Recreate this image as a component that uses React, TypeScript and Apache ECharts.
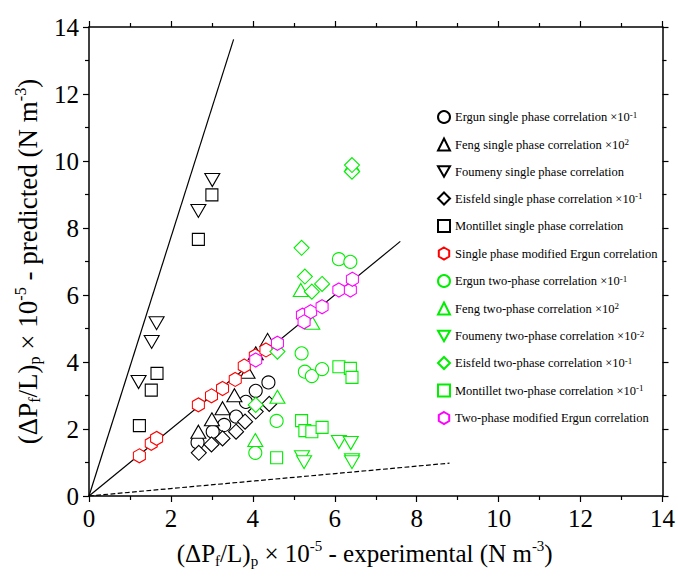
import React, { useEffect, useRef } from "react";
import * as echarts from "echarts";

const FONT = "'Times New Roman', 'Liberation Serif', serif";

const xTicks = { min: 0, max: 14, interval: 2 };
const yTicks = { min: 0, max: 14, interval: 2 };

// single phase (black)
const ergunSingle = [[4.38, 3.39], [4.07, 3.14], [3.83, 2.81], [3.59, 2.37], [3.3, 2.12], [3.02, 1.92], [2.65, 1.6]];
const fengSingle = [[4.36, 4.66], [4.07, 4.26], [3.87, 3.71], [3.55, 3.01], [3.26, 2.62], [3.0, 2.29], [2.67, 1.92]];
const foumenySingle = [[3.01, 9.43], [2.67, 8.51], [1.65, 5.16], [1.53, 4.6], [1.21, 3.4]];
const eisfeldSingle = [[2.68, 1.29], [2.99, 1.54], [3.26, 1.72], [3.59, 1.92], [3.81, 2.22], [4.07, 2.52], [4.4, 2.75]];
const montilletSingle = [[3.0, 8.99], [2.67, 7.66], [1.66, 3.66], [1.52, 3.16], [1.23, 2.1]];
const modErgunSingle = [[1.23, 1.2], [1.52, 1.57], [1.65, 1.72], [2.67, 2.72], [2.99, 2.99], [3.26, 3.21], [3.57, 3.48], [3.79, 3.88], [4.06, 4.18], [4.32, 4.36]];
// two-phase (green / magenta)
const ergunTwo = [[5.19, 4.26], [5.27, 3.71], [5.44, 3.58], [5.69, 3.79], [4.58, 2.24], [4.06, 1.29], [6.1, 7.07], [6.38, 6.99]];
const fengTwo = [[4.6, 2.96], [4.06, 1.67], [5.17, 6.15], [5.45, 5.17], [6.42, 9.88]];
const foumenyTwo = [[6.1, 1.61], [6.39, 1.58], [5.2, 1.16], [5.25, 1.01], [6.42, 1.07], [6.42, 1.01]];
const eisfeldTwo = [[5.19, 7.41], [5.27, 6.55], [5.44, 6.1], [5.69, 6.33], [6.42, 9.68], [6.42, 9.88], [4.07, 2.72], [4.6, 4.31]];
const montilletTwo = [[6.1, 3.86], [6.38, 3.81], [6.42, 3.54], [5.19, 2.25], [5.27, 1.95], [5.44, 1.92], [5.69, 2.05], [4.58, 1.14]];
const modErgunTwo = [[4.07, 4.06], [4.6, 4.56], [5.21, 5.4], [5.41, 5.5], [5.69, 5.65], [6.1, 6.15], [6.38, 6.15], [6.43, 6.47], [5.25, 5.2]];

// reference lines
const parityLine = [[0, 0], [7.6, 7.6]];
const upperLine = [[0, 0], [3.53, 13.63]];
const lowerLine = [[0, 0], [8.8, 0.98]];

const legendNames = [
  "Ergun single phase correlation ×10^-1",
  "Feng single phase correlation ×10^2",
  "Foumeny single phase correlation",
  "Eisfeld single phase correlation ×10^-1",
  "Montillet single phase correlation",
  "Single phase modified Ergun correlation",
  "Ergun two-phase correlation ×10^-1",
  "Feng two-phase correlation ×10^2",
  "Foumeny two-phase correlation ×10^-2",
  "Eisfeld two-phase correlation ×10^-1",
  "Montillet two-phase correlation ×10^-1",
  "Two-phase modified Ergun correlation",
];

const HEX = "path://M0,-1 L0.866,-0.5 L0.866,0.5 L0,1 L-0.866,0.5 L-0.866,-0.5 Z";
const DOWN = "path://M0,0 L2,0 L1,1.73 Z";

export default function App() {
  const ref = useRef<HTMLDivElement>(null);
  useEffect(() => {
    if (!ref.current) return;
    const chart = echarts.init(ref.current, null, { renderer: "svg" });

    const datasets = [ergunSingle, fengSingle, foumenySingle, eisfeldSingle, montilletSingle, modErgunSingle,
      ergunTwo, fengTwo, foumenyTwo, eisfeldTwo, montilletTwo, modErgunTwo];
    const symbols = ["circle", "triangle", DOWN, "diamond", "rect", HEX, "circle", "triangle", DOWN, "diamond", "rect", HEX];
    const sizes: any[] = [13, [15, 13], [15, 13], 15, 12, [12, 14], 13, [15, 13], [15, 13], 15, 12, [12, 14]];
    const colors = ["#000", "#000", "#000", "#000", "#000", "#ff0000", "#00ee00", "#00ee00", "#00ee00", "#00ee00", "#00ee00", "#ff00ff"];

    const scatterSeries = datasets.map((d, i) => ({
      type: "scatter",
      name: legendNames[i],
      data: d,
      symbol: symbols[i],
      symbolSize: sizes[i],
      itemStyle: { color: "#fff", borderColor: colors[i], borderWidth: 1.1, opacity: 1 },
      z: 3 + i,
    }));

    const lineSeries = [
      { data: parityLine, type: "solid" },
      { data: upperLine, type: "solid" },
      { data: lowerLine, type: "dashed" },
    ].map((l) => ({
      type: "line",
      data: l.data,
      symbol: "none",
      silent: true,
      lineStyle: { color: "#000", width: 1.2, type: l.type },
      z: 2,
    }));

    const axisCommon = {
      type: "value",
      axisLine: { show: true, onZero: false, lineStyle: { color: "#000", width: 1.5 } },
      axisTick: { show: true, inside: false, length: 6, lineStyle: { color: "#000", width: 1.2 } },
      minorTick: { show: true, splitNumber: 2, length: 4, lineStyle: { color: "#000", width: 1.2 } },
      splitLine: { show: false },
    };
    const labelStyle = { fontSize: 25, fontFamily: FONT, color: "#000" };
    const richTitle = (size: number) => ({
      n: { fontSize: size, fontFamily: FONT, color: "#000", lineHeight: 30, verticalAlign: "middle" },
      sub: { fontSize: size * 0.6, fontFamily: FONT, color: "#000", lineHeight: 14, verticalAlign: "bottom" },
      sup: { fontSize: size * 0.6, fontFamily: FONT, color: "#000", lineHeight: 14, verticalAlign: "top" },
    });

    chart.setOption({
      animation: false,
      backgroundColor: "#fff",
      grid: { left: 89, top: 27, right: 13, bottom: 83 },
      xAxis: [
        {
          ...axisCommon, ...xTicks, position: "bottom",
          axisLabel: { ...labelStyle, margin: 10 },
          name: "{n|(ΔP}{sub|f}{n|/L)}{sub|p}{n| × 10}{sup|-5}{n| - experimental (N m}{sup|-3}{n|)}",
          nameLocation: "middle", nameGap: 42,
          nameTextStyle: { rich: richTitle(25), padding: [0, 22, 0, 0] },
        },
        { ...axisCommon, ...xTicks, position: "top", axisLabel: { show: false } },
      ],
      yAxis: [
        {
          ...axisCommon, ...yTicks, position: "left",
          axisLabel: { ...labelStyle, margin: 10 },
          name: "{n|(ΔP}{sub|f}{n|/L)}{sub|p}{n| × 10}{sup|-5}{n| - predicted (N m}{sup|-3}{n|)}",
          nameLocation: "middle", nameGap: 37,
          nameTextStyle: { rich: richTitle(27) },
        },
        { ...axisCommon, ...yTicks, position: "right", axisLabel: { show: false } },
      ],
      legend: {
        orient: "vertical",
        left: 432,
        top: 105,
        padding: 5,
        itemWidth: 12,
        itemHeight: 12,
        itemGap: 13.5,
        data: legendNames,
        formatter: (name: string) => {
          const [base, exp] = name.split("^");
          return exp ? `{n|${base}}{sup|${exp}}` : `{n|${base}}`;
        },
        textStyle: {
          rich: {
            n: { fontSize: 12.5, fontFamily: FONT, color: "#000", lineHeight: 14 },
            sup: { fontSize: 9, fontFamily: FONT, color: "#000", lineHeight: 8, verticalAlign: "top" },
          },
        },
      },
      series: [...lineSeries, ...scatterSeries],
    });
    return () => chart.dispose();
  }, []);
  return <div ref={ref} style={{ width: 678, height: 579, position: "absolute", left: 0, top: 0 }} />;
}
